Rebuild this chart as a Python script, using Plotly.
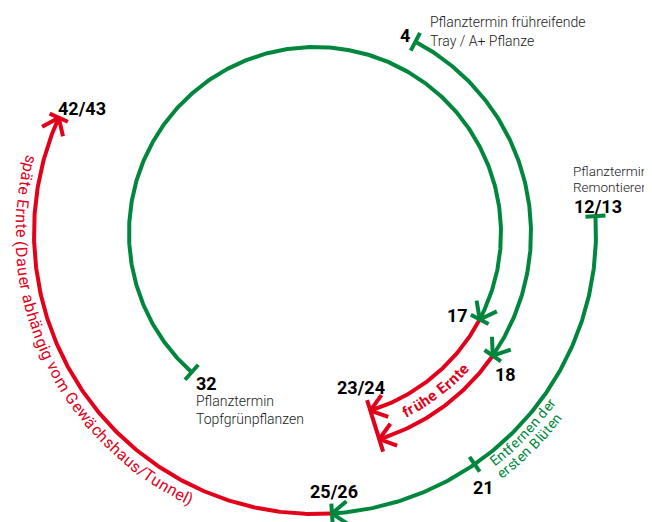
import math
import plotly.graph_objects as go

# ---------------- data (calendar weeks) ----------------
weeks_per_year = 52

arc_names = ["Topfgrünpflanzen", "frühreifende Tray / A+", "Remontierer",
             "frühe Ernte Topfgrün", "frühe Ernte Tray", "späte Ernte"]
arc_start_week = [32, 4, 12.5, 17, 18, 25.5]
arc_end_week = [17, 18, 25.5, 23.5, 23.5, 42.5]
arc_phase = ["Kultur", "Kultur", "Kultur", "Ernte", "Ernte", "Ernte"]

mark_week = [4, 12.5, 17, 18, 21, 23.5, 25.5, 32, 42.5]
mark_label = ["4", "12/13", "17", "18", "21", "23/24", "25/26", "32", "42/43"]

note_week = [4, 12.5, 32]
note_lines = [["Pflanztermin frühreifende", "Tray / A+ Pflanze"],
              ["Pflanztermin", "Remontierer"],
              ["Pflanztermin", "Topfgrünpflanzen"]]

text_early_harvest = "frühe Ernte"
text_late_harvest = "späte Ernte (Dauer abhängig vom Gewächshaus/Tunnel)"
text_blossom = ["Entfernen der", "ersten Blüten"]
blossom_week = 21

# ---------------- layout / style ----------------
W, H = 652, 522
PAGE_MARGIN = 8          # default body margin of the html page
CX, CY = 315, 233
RING_R = [186, 216, 281]
arc_ring = [0, 1, 2, 0, 1, 2]
GREEN = "#00873D"
RED = "#E2001A"
BLACK = "#1a1a1a"
LW = 4
FONT = "Roboto, Noto Sans, DejaVu Sans, sans-serif"
phase_color = {"Kultur": GREEN, "Ernte": RED}

# label offsets in pixels relative to marker point: (ring, dx, dy_screen, xanchor)
mark_style = {
    "4": (1, -10, -6, "center"),
    "12/13": (2, -23, -10, "left"),
    "17": (0, -22, -4, "center"),
    "18": (1, 13, 19, "center"),
    "21": (2, 9, 23, "center"),
    "23/24": (None, -14, -37, "center"),
    "25/26": (2, 2, -22, "center"),
    "32": (0, 2, 11, "left"),
    "42/43": (2, -3, -9, "left"),
}
# (ring, dx, [dy_screen per line], font size)
note_style = {
    4: (1, 13, [-20, -1], 14),
    12.5: (2, -24, [-45, -29], 13.5),
    32: (0, 2, [29, 47], 14),
}

# approximate glyph advance widths (em, Roboto-like) for curved text placement
GW = {' ': .248, 'a': .544, 'b': .561, 'c': .523, 'd': .564, 'e': .530, 'f': .347,
      'g': .561, 'h': .551, 'i': .243, 'k': .507, 'l': .243, 'm': .876, 'n': .552,
      'o': .570, 'p': .561, 'r': .338, 's': .516, 't': .327, 'u': .551, 'v': .484,
      'w': .751, 'ä': .544, 'ö': .570, 'ü': .551, '(': .342, ')': .348, '/': .412,
      'E': .568, 'D': .655, 'G': .681, 'T': .564, 'B': .622}


def ang(week):
    return week * 360.0 / weeks_per_year


def pt(a_deg, r):
    a = math.radians(a_deg)
    return CX + r * math.sin(a), CY - r * math.cos(a)


fig = go.Figure()
annotations = []

# arcs
for i in range(len(arc_start_week)):
    a0 = ang(arc_start_week[i])
    a1 = ang(arc_end_week[i])
    if a1 < a0:
        a1 += 360
    r = RING_R[arc_ring[i]]
    n = max(2, int((a1 - a0) / 0.5) + 1)
    xs, ys = [], []
    for k in range(n):
        a = a0 + (a1 - a0) * k / (n - 1)
        x, y = pt(a, r)
        xs.append(x)
        ys.append(y)
    fig.add_trace(go.Scatter(x=xs, y=ys, mode="lines", name=arc_names[i],
                             line=dict(color=phase_color[arc_phase[i]], width=LW),
                             hoverinfo="skip", showlegend=False))

seg = {GREEN: ([], []), RED: ([], [])}


def add_seg(color, p, q):
    seg[color][0].extend([p[0], q[0], None])
    seg[color][1].extend([p[1], q[1], None])


def bar(color, a, r_in, r_out):
    add_seg(color, pt(a, r_in), pt(a, r_out))


def chevron(color, a, r, L=19, phi=37):
    tip = pt(a, r)
    ar = math.radians(a)
    bx, by = -math.cos(ar), -math.sin(ar)
    for s in (1, -1):
        f = math.radians(phi * s)
        dx = bx * math.cos(f) - by * math.sin(f)
        dy = bx * math.sin(f) + by * math.cos(f)
        add_seg(color, tip, (tip[0] + L * dx, tip[1] + L * dy))


HB = 10
for i in range(len(arc_start_week)):
    col = phase_color[arc_phase[i]]
    r = RING_R[arc_ring[i]]
    a_end = ang(arc_end_week[i])
    chevron(col, a_end, r)
    if arc_phase[i] == "Kultur":
        bar(col, ang(arc_start_week[i]), r - HB, r + HB)
        bar(col, a_end, r - HB, r + HB)
    elif arc_end_week[i] != 23.5:
        bar(col, a_end, r - HB, r + HB)
# combined bar for early harvest end
bar(RED, ang(23.5), RING_R[0] - 11, RING_R[1] + 13)
# blossom removal tick
bar(GREEN, ang(blossom_week), RING_R[2] - 9, RING_R[2] + 9)

for col in (GREEN, RED):
    fig.add_trace(go.Scatter(x=seg[col][0], y=seg[col][1], mode="lines",
                             line=dict(color=col, width=LW), hoverinfo="skip",
                             showlegend=False))

# week labels
for w, lab in zip(mark_week, mark_label):
    ring, dx, dy, xa = mark_style[lab]
    r = RING_R[ring] if ring is not None else (RING_R[0] + RING_R[1]) / 2
    x, y = pt(ang(w), r)
    annotations.append(dict(x=x, y=y, xref="x", yref="y", text=lab, showarrow=False,
                            xshift=dx, yshift=-dy, xanchor=xa, yanchor="middle",
                            font=dict(family=FONT, size=18, color="#000", weight="bold")))

# notes
for w, lines in zip(note_week, note_lines):
    ring, dx, dys, fs = note_style[w]
    x, y = pt(ang(w), RING_R[ring])
    for line, dy in zip(lines, dys):
        annotations.append(dict(x=x, y=y, xref="x", yref="y", text=line, showarrow=False,
                                xshift=dx, yshift=-dy, xanchor="left", yanchor="middle",
                                font=dict(family=FONT, size=fs, color=BLACK, weight=300)))


def curved(text, r, a_center, size, color, total_px, bold=False):
    nat = [GW.get(ch, 0.55) for ch in text]
    k = total_px / sum(nat)
    widths = [w * k for w in nat]
    s = -total_px / 2
    for ch, wd in zip(text, widths):
        sc = s + wd / 2
        s += wd
        if ch == " ":
            continue
        a = a_center - math.degrees(sc / r)
        x, y = pt(a, r)
        ta = ((a + 180 + 180) % 360) - 180
        annotations.append(dict(x=x, y=y, xref="x", yref="y", text=ch, showarrow=False,
                                textangle=ta, xanchor="center", yanchor="middle",
                                font=dict(family=FONT, size=size, color=color,
                                          weight="bold" if bold else "normal")))


curved(text_early_harvest, 201, 142.5, 15, RED, 79, bold=True)
curved(text_late_harvest, 294, 245.0, 16, RED, 415)
curved(text_blossom[0], 290, 133.8, 14, GREEN, 88)
curved(text_blossom[1], 304, 134.8, 14, GREEN, 86)

# the page body adds an 8px margin; map data coords to window pixels
fig.update_layout(
    width=W - PAGE_MARGIN, height=H - PAGE_MARGIN, margin=dict(l=0, r=0, t=0, b=0),
    paper_bgcolor="white", plot_bgcolor="white",
    xaxis=dict(range=[PAGE_MARGIN, W], visible=False, fixedrange=True),
    yaxis=dict(range=[H, PAGE_MARGIN], visible=False, fixedrange=True),
    annotations=annotations, showlegend=False,
)
fig.write_html("out.html")
